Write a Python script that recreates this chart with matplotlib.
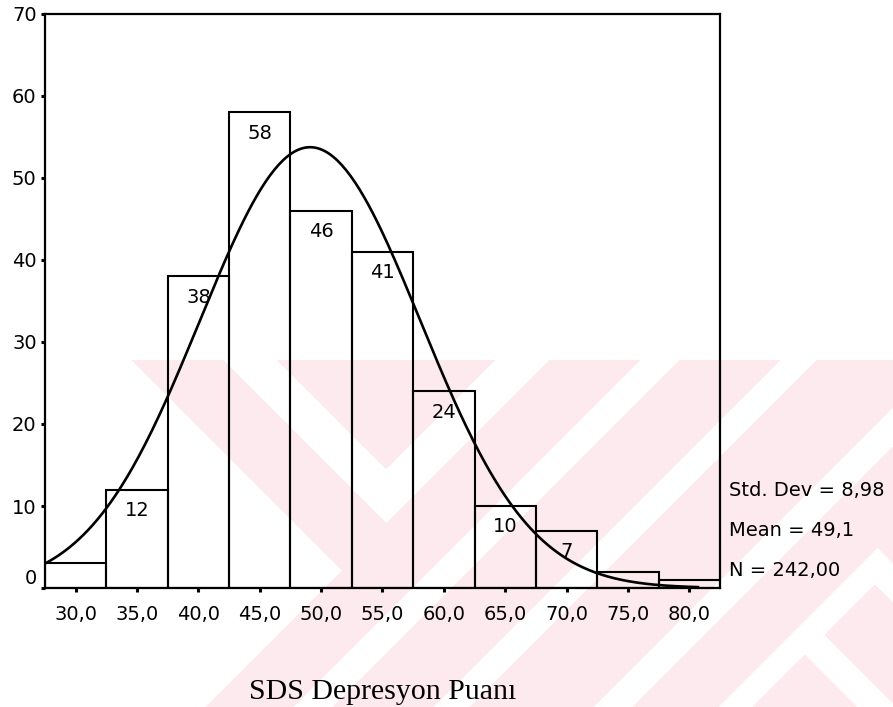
import numpy as np
import matplotlib
matplotlib.use("Agg")
import matplotlib.pyplot as plt

# SDS depression score histogram (bin width 5)
bin_centers = [30, 35, 40, 45, 50, 55, 60, 65, 70, 75, 80]
counts = [3, 12, 38, 58, 46, 41, 24, 10, 7, 2, 1]
bin_width = 5.0

std_dev = 8.98
mean = 49.1
n_total = 242

x_ticks = [30, 35, 40, 45, 50, 55, 60, 65, 70, 75, 80]
y_ticks = [0, 10, 20, 30, 40, 50, 60, 70]

W, H = 893, 707
fig = plt.figure(figsize=(W / 100, H / 100), dpi=100)
fig.patch.set_facecolor("white")

# pale background stamp made of diagonal bands
px, py = np.meshgrid(np.arange(W) + 0.5, np.arange(H) + 0.5)
s = px + py
d = py - px
pink = py >= 360
white = (d > 228) & (s < 913)
white |= (d > 83) & (d < 137) & (s < 910)
white |= (s > 855) & (s < 910) & (d < 137)
for lo, hi in [(1000, 1040), (1140, 1177), (1300, 1340)]:
    white |= (s > lo) & (s < hi)
white |= (s > 1425) & (s < 1460) & (d > -330)
white |= (d > -190) & (d < -150) & (s > 1425)
white |= (d > -330) & (d < -290) & (s > 1425)
mask = pink & ~white
img = np.ones((H, W, 3))
img[mask] = np.array([252, 234, 238]) / 255.0
bg = fig.add_axes([0, 0, 1, 1], zorder=-1)
bg.imshow(img, aspect="auto", interpolation="nearest")
bg.axis("off")

ax = fig.add_axes([45 / W, 1 - 588 / H, 675 / W, 574 / H])
ax.set_facecolor("none")

ax.bar(bin_centers, counts, width=bin_width, fill=False,
       edgecolor="black", linewidth=1.5)

for c, v in zip(bin_centers, counts):
    if v >= 7:
        ax.annotate(str(v), (c, v), xytext=(0, -21), textcoords="offset pixels",
                    ha="center", va="center", fontsize=14)

# fitted normal curve
xs = np.linspace(27.5, 80.7, 300)
ys = n_total * bin_width / (std_dev * np.sqrt(2 * np.pi)) * np.exp(-0.5 * ((xs - mean) / std_dev) ** 2)
ax.plot(xs, ys, color="black", linewidth=1.9)

ax.set_xlim(27.5, 82.5)
ax.set_ylim(0, 70)
ax.set_xticks(x_ticks)
ax.set_xticklabels([f"{v:.1f}".replace(".", ",") for v in x_ticks])
ax.set_yticks(y_ticks)
ax.set_yticklabels([str(v) for v in y_ticks])
ax.tick_params(axis="both", labelsize=14, length=3, width=2.2, color="black")
ax.tick_params(axis="x", pad=9)
ax.tick_params(axis="y", pad=3)
ax.get_yticklabels()[0].set_va("bottom")
for sp in ax.spines.values():
    sp.set_linewidth(1.6)

ax.set_xlabel("SDS Depresyon Puanı", family="Liberation Serif", fontsize=21.5, labelpad=40)

stats = [f"Std. Dev = {std_dev:.2f}".replace(".", ","),
         f"Mean = {mean:.1f}".replace(".", ","),
         f"N = {n_total:.2f}".replace(".", ",")]
stats[0] = stats[0].replace("Std,", "Std.")
for txt, yp in zip(stats, [491, 531, 570]):
    fig.text(729 / W, 1 - yp / H, txt, ha="left", va="center", fontsize=14)

fig.savefig("out.png", dpi=100)
